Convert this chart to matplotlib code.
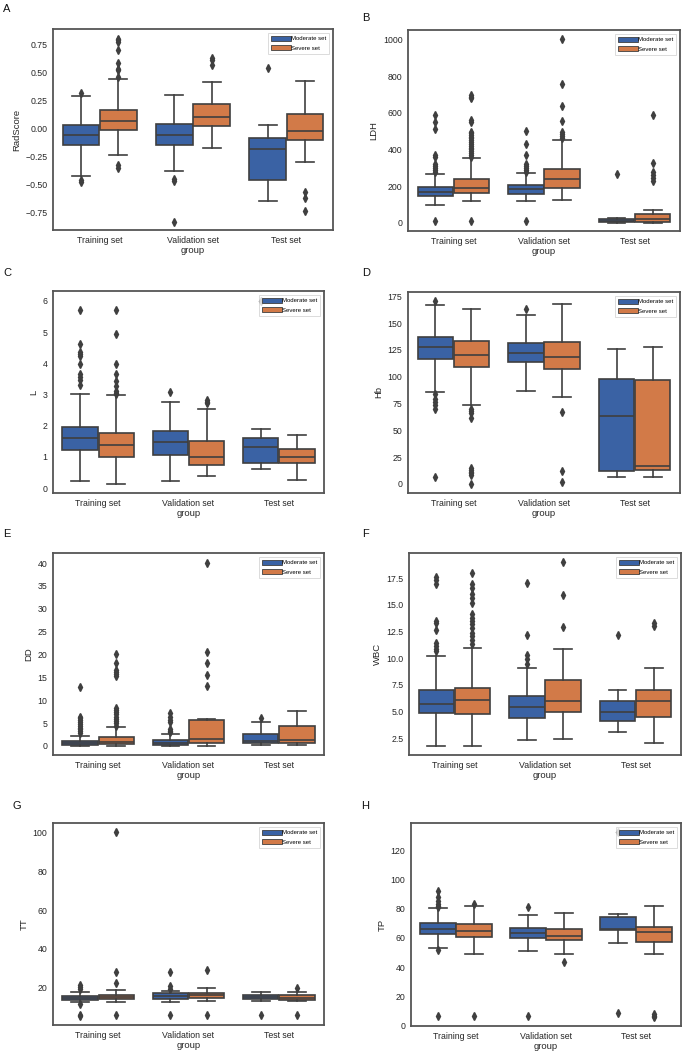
import matplotlib
matplotlib.use('Agg')
import matplotlib.pyplot as plt
from matplotlib.patches import Patch

plt.rcParams['font.family'] = ['Liberation Sans', 'DejaVu Sans']

# groups on the x axis and the two hue levels
groups = ['Training set', 'Validation set', 'Test set']
hues = ['Moderate set', 'Severe set']

# box stats, one row per box:
# (whisker low, q1, median, q3, whisker high)
# order: train-moderate, train-severe, val-moderate, val-severe, test-moderate, test-severe
radscore_box = [(-0.425, -0.155, -0.06, 0.024, 0.29), (-0.238, -0.02, 0.062, 0.164, 0.437),
                (-0.38, -0.149, -0.06, 0.033, 0.30), (-0.18, 0.02, 0.098, 0.217, 0.41),
                (-0.65, -0.46, -0.185, -0.09, 0.03), (-0.307, -0.107, -0.027, 0.128, 0.425)]
radscore_fliers = [[0.31, -0.46, -0.485], [0.455, 0.52, 0.53, 0.58, 0.70, 0.765, 0.79, 0.80, -0.333, -0.357],
                   [-0.455, -0.47, -0.84], [0.565, 0.604, 0.625],
                   [0.536], [-0.568, -0.625, -0.744]]

ldh_box = [(100, 145, 169, 196, 269), (118, 164, 191, 242, 356),
           (118, 160, 185, 209, 273), (127, 191, 242, 296, 451),
           (2, 5, 13, 20, 29), (2, 7, 24, 51, 69)]
ldh_fliers = [[280, 290, 300, 310, 320, 360, 372, 509, 551, 587, 9],
              [360, 370, 380, 390, 400, 410, 420, 430, 440, 450, 460, 470, 480, 490, 498, 550, 560, 678, 688, 696, 9],
              [280, 290, 300, 310, 320, 369, 429, 502, 9],
              [465, 475, 485, 496, 556, 638, 755, 1000],
              [269], [230, 245, 260, 275, 324, 587]]

l_box = [(0.23, 1.23, 1.6, 1.97, 3.01), (0.13, 0.98, 1.39, 1.76, 2.97),
         (0.23, 1.05, 1.49, 1.82, 2.75), (0.37, 0.73, 0.99, 1.52, 2.54),
         (0.62, 0.80, 1.31, 1.6, 1.9), (0.27, 0.80, 1.0, 1.26, 1.71)]
l_fliers = [[3.3, 3.45, 3.55, 3.65, 3.97, 4.25, 4.3, 4.35, 4.62, 5.71],
            [3.02, 3.06, 3.1, 3.28, 3.44, 3.67, 3.97, 4.93, 5.71],
            [3.09], [2.72, 2.77, 2.82],
            [6.0], []]

hb_box = [(85.8, 116.4, 127.3, 137.2, 166.6), (73.7, 109.3, 120.7, 133.1, 163.5),
          (86.7, 113.3, 122.3, 131.9, 157.3), (81.5, 107.2, 118.3, 132.6, 167.5),
          (6.2, 12.4, 63.8, 97.9, 125.5), (6.2, 12.7, 16.4, 96.6, 127.6)]
hb_fliers = [[171, 83.6, 79, 76.8, 73.7, 70, 6.2],
             [70, 68.5, 66, 61.3, 14.9, 13, 11.5, 10, 8.7, 0],
             [162.9], [67.5, 12.4, 1.9],
             [], []]

dd_box = [(0, 0.22, 0.58, 1.17, 2.19), (0, 0.36, 0.8, 1.97, 4.23),
          (0, 0.22, 0.58, 1.3, 2.55), (0, 0.73, 1.46, 5.7, 5.9),
          (0.15, 0.58, 1.17, 2.55, 5.3), (0.22, 0.73, 1.31, 4.4, 7.7)]
dd_fliers = [[2.8, 3.2, 3.6, 4.0, 4.4, 4.8, 5.2, 5.6, 6.0, 6.4, 12.8],
             [4.4, 4.9, 5.4, 5.9, 6.4, 6.9, 7.4, 7.8, 8.2, 15.2, 15.7, 16.2, 16.5, 18.2, 20.1],
             [3.0, 3.3, 3.6, 5.3, 5.7, 6.4, 7.1], [13.1, 15.4, 18.2, 20.5, 40.1],
             [6.1], []]

wbc_box = [(1.81, 4.84, 5.69, 7.03, 10.16), (1.81, 4.78, 6.06, 7.25, 10.94),
           (2.34, 4.44, 5.44, 6.47, 9.06), (2.41, 4.97, 5.97, 7.97, 10.84),
           (3.09, 4.09, 4.97, 6.03, 7.03), (2.09, 4.53, 6.03, 7.03, 9.06)]
wbc_fliers = [[10.7, 10.9, 11.1, 11.4, 12.66, 13.3, 13.5, 16.9, 17.3, 17.6],
              [11.3, 11.7, 12.1, 12.4, 12.8, 13.2, 13.5, 13.8, 14.1, 15.2, 15.6, 16.0, 16.6, 16.9, 18.0],
              [9.5, 9.9, 10.3, 12.19, 17.0], [12.9, 15.9, 19.0],
              [12.13], [13.0, 13.3]]

tt_box = [(12.6, 13.8, 14.8, 15.9, 17.9), (12.6, 14.1, 15.2, 16.4, 18.6),
          (12.8, 14.3, 15.7, 17.1, 18.3), (13.4, 14.8, 16.2, 17.4, 20.0),
          (13.4, 14.0, 15.2, 16.4, 17.9), (12.9, 13.8, 14.8, 16.4, 17.6)]
tt_fliers = [[19.5, 20.5, 21.5, 11.4, 6.2, 5.2],
             [22.6, 28.1, 100, 5.7],
             [19.5, 20.7, 28.1, 6.0], [29.3, 6.0],
             [6.0], [19.8, 6.0]]

tp_box = [(53.2, 62.6, 66.1, 70.0, 80.3), (48.9, 60.8, 64.9, 69.3, 82.1),
          (50.7, 59.7, 63.5, 67.0, 75.7), (49.3, 58.5, 61.5, 65.9, 76.9),
          (56.2, 65.4, 65.9, 74.1, 76.2), (49.3, 57.4, 64.3, 67.7, 82.1)]
tp_fliers = [[81, 82, 83.5, 85, 88, 92, 51.6, 6.2],
             [83.3, 6.2],
             [81.5, 6.2], [43.4],
             [132.4, 8.5], [5.7, 6.7, 8.0]]

ylims = [(-0.91, 0.885), (-44, 1051), (-0.16, 6.32), (-8.4, 179),
         (-2.0, 42.2), (0.94, 19.84), (0.8, 104.8), (-0.4, 138.8)]
yticks = [[-0.75, -0.5, -0.25, 0, 0.25, 0.5, 0.75], range(0, 1001, 200), range(0, 7),
          range(0, 176, 25), range(0, 41, 5), [2.5, 5.0, 7.5, 10.0, 12.5, 15.0, 17.5],
          range(20, 101, 20), range(0, 121, 20)]

panels = [('A', 'RadScore', radscore_box, radscore_fliers),
          ('B', 'LDH', ldh_box, ldh_fliers),
          ('C', 'L', l_box, l_fliers),
          ('D', 'Hb', hb_box, hb_fliers),
          ('E', 'DD', dd_box, dd_fliers),
          ('F', 'WBC', wbc_box, wbc_fliers),
          ('G', 'TT', tt_box, tt_fliers),
          ('H', 'TP', tp_box, tp_fliers)]

# axes rectangles in pixels (left, right, top, bottom) and letter positions
boxes_px = [(53, 333, 29, 230), (408, 680, 30, 231),
            (53, 324, 291, 493), (408, 680, 292, 493),
            (53, 324, 553, 755), (409, 681, 553, 755),
            (53, 324, 823, 1025), (411, 681, 823, 1026)]
letters_px = [(3, 12), (362, 21), (3, 276), (362, 276),
              (3, 537), (362, 537), (12, 809), (361, 809)]

colors = ['#3a62a4', '#d27a48']
edge = '#3f3f3f'

W, H = 685, 1054
fig = plt.figure(figsize=(W / 100, H / 100), dpi=100)

for i, (letter, ylabel, box, fliers) in enumerate(panels):
    l, r, t, b = boxes_px[i]
    ax = fig.add_axes([l / W, 1 - b / H, (r - l) / W, (b - t) / H])
    stats = []
    positions = []
    facecolors = []
    for k, (lo, q1, med, q3, hi) in enumerate(box):
        g, h = divmod(k, 2)
        stats.append({'whislo': lo, 'q1': q1, 'med': med, 'q3': q3, 'whishi': hi,
                      'fliers': fliers[k]})
        positions.append(g - 0.2 + 0.4 * h)
        facecolors.append(colors[h])
    bp = ax.bxp(stats, positions=positions, widths=0.39, patch_artist=True,
                boxprops=dict(edgecolor=edge, linewidth=1.2),
                medianprops=dict(color=edge, linewidth=1.2),
                whiskerprops=dict(color=edge, linewidth=1.2),
                capprops=dict(color=edge, linewidth=1.2),
                capwidths=0.195,
                flierprops=dict(marker='d', markerfacecolor=edge, markeredgecolor=edge,
                                markersize=3.8))
    for patch, fc in zip(bp['boxes'], facecolors):
        patch.set_facecolor(fc)

    ax.set_xlim(-0.5, 2.5)
    ax.set_ylim(*ylims[i])
    ax.set_xticks(range(3))
    ax.set_xticklabels(groups)
    ax.set_yticks(list(yticks[i]))
    ax.tick_params(length=0, labelsize=6.3, colors='#262626', pad=4)
    ax.set_ylabel(ylabel, fontsize=6.8, color='#262626', labelpad=3)
    ax.set_xlabel('group', fontsize=6.8, color='#262626', labelpad=1)
    for sp in ax.spines.values():
        sp.set_color('#555555')
        sp.set_linewidth(1.3)

    handles = [Patch(facecolor=c, edgecolor=edge, linewidth=0.6) for c in colors]
    leg = ax.legend(handles, hues, loc='upper right', fontsize=4.3, frameon=True,
                    handlelength=3.2, handleheight=0.9, handletextpad=0.1,
                    borderpad=0.5, labelspacing=0.7, borderaxespad=0.6, fancybox=False)
    leg.get_frame().set_edgecolor('#cccccc')
    leg.get_frame().set_linewidth(0.6)

    lx, ly = letters_px[i]
    fig.text(lx / W, 1 - ly / H, letter, fontsize=8, color='#111111', va='baseline')

fig.savefig('out.png', dpi=100)
